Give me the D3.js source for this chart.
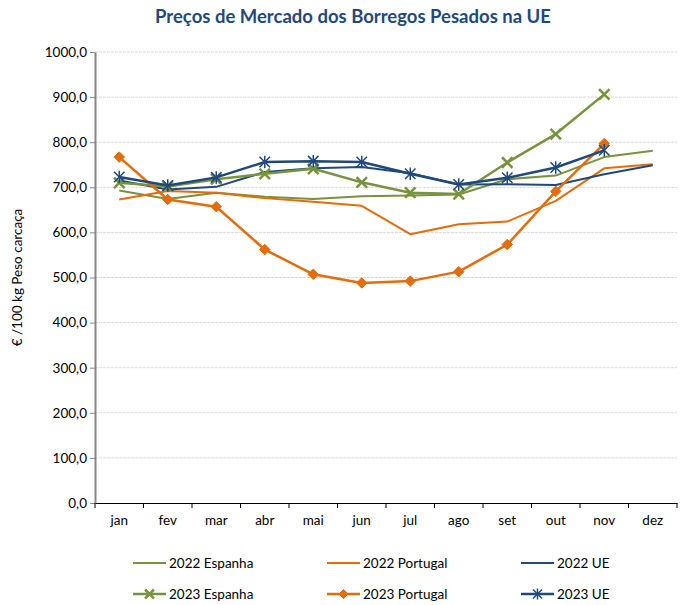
<!DOCTYPE html>
<html>
<head>
<meta charset="utf-8">
<script src="https://cdn.jsdelivr.net/npm/d3@7"></script>
<style>
  body { margin: 0; background: #fff; }
  #vis text { font-family: Lato, "Open Sans", sans-serif; }
</style>
</head>
<body>
<div id="vis"></div>
<script>
//data----
const months = ["jan","fev","mar","abr","mai","jun","jul","ago","set","out","nov","dez"]
const yTicks = [0,100,200,300,400,500,600,700,800,900,1000]

const espanha2022 = [693,674,688,679,674,680,682,684,718,726,767,781]
const portugal2022 = [673,692,688,676,668,659,596,618,624,670,742,751]
const ue2022 = [715,695,701,734,742,745,731,706,707,705,729,749]

const espanha2023 = [710,702,718,730,741,711,688,685,755,818,906]
const portugal2023 = [767,673,657,562,507,488,492,513,573,691,797]
const ue2023 = [723,704,722,756,758,756,730,706,721,744,782]

const seriesNames = ["2022 Espanha","2022 Portugal","2022 UE","2023 Espanha","2023 Portugal","2023 UE"]

//dimensions----
let dimensions = {
    width: 686,
    height: 605,
    margins: { left: 95, right: 9, top: 52, bottom: 102 },
}
dimensions.boundedwidth = dimensions.width - dimensions.margins.left - dimensions.margins.right
dimensions.boundedheight = dimensions.height - dimensions.margins.top - dimensions.margins.bottom

const green = "#77933c", orange = "#e46c0a", blue = "#1f497d"

const series = [
    {name: seriesNames[0], values: espanha2022, color: green, width: 2, marker: null},
    {name: seriesNames[1], values: portugal2022, color: orange, width: 2, marker: null},
    {name: seriesNames[2], values: ue2022, color: blue, width: 2, marker: null},
    {name: seriesNames[3], values: espanha2023, color: green, width: 2.5, marker: "x"},
    {name: seriesNames[4], values: portugal2023, color: orange, width: 2.5, marker: "diamond"},
    {name: seriesNames[5], values: ue2023, color: blue, width: 2.5, marker: "star"},
]

//canvas----
const wrapper = d3.select("#vis").append("svg")
    .attr("width", dimensions.width)
    .attr("height", dimensions.height)

wrapper.append("text")
    .attr("x", 353).attr("y", 23)
    .attr("text-anchor", "middle")
    .attr("fill", "#1f497d")
    .style("font-size", "18.5px")
    .style("font-weight", "bold")
    .text("Preços de Mercado dos Borregos Pesados na UE")

const bounds = wrapper.append("g")
    .attr("transform", `translate(${dimensions.margins.left},${dimensions.margins.top})`)

//scales----
const xScale = d3.scaleBand()
    .domain(months)
    .range([0, dimensions.boundedwidth])

const yScale = d3.scaleLinear()
    .domain([0, 1000])
    .range([dimensions.boundedheight, 0])

const xCenter = i => xScale(months[i]) + xScale.bandwidth() / 2

//grid
bounds.append("g").selectAll("line")
    .data(yTicks.filter(d => d > 0))
    .enter().append("line")
    .attr("x1", 0).attr("x2", dimensions.boundedwidth)
    .attr("y1", d => yScale(d)).attr("y2", d => yScale(d))
    .attr("stroke", "#d9d9d9")
    .attr("stroke-width", 1)
    .attr("stroke-dasharray", "3,1")

//axes----
const yAxis = bounds.append("g")
    .call(d3.axisLeft(yScale).tickValues(yTicks).tickSize(5).tickSizeOuter(0)
        .tickFormat(d => d3.format(".1f")(d).replace(".", ",")))
yAxis.select(".domain").attr("stroke", "#868686").attr("stroke-width", 2)
yAxis.selectAll(".tick line").attr("stroke", "#868686")
yAxis.selectAll(".tick text").attr("fill", "#000").attr("x", -8).style("font-size", "13.5px")

const xAxis = bounds.append("g")
    .attr("transform", `translate(0,${dimensions.boundedheight})`)
    .call(d3.axisBottom(xScale).tickSize(0))
xAxis.select(".domain").attr("stroke", "#000").attr("stroke-width", 1)
xAxis.selectAll(".tick text").attr("fill", "#000").attr("y", 12).style("font-size", "13.5px")

// x tick marks at band edges
xAxis.append("g").selectAll("line")
    .data(months.concat(["end"]))
    .enter().append("line")
    .attr("x1", (d, i) => i * xScale.step()).attr("x2", (d, i) => i * xScale.step())
    .attr("y1", 0).attr("y2", 5)
    .attr("stroke", "#000")

bounds.append("text")
    .attr("transform", `translate(${-73},${dimensions.boundedheight / 2}) rotate(-90)`)
    .attr("text-anchor", "middle")
    .attr("fill", "#000")
    .style("font-size", "13.5px")
    .text("€ /100 kg Peso carcaça")

//markers----
function drawMarker(g, type, color, size) {
    const s = size / 2
    if (type === "x" || type === "star") {
        g.append("path").attr("d", `M${-s},${-s}L${s},${s}M${-s},${s}L${s},${-s}`)
            .attr("stroke", color).attr("stroke-width", type === "x" ? 2.5 : 1.5).attr("fill", "none")
    }
    if (type === "star") {
        g.append("path").attr("d", `M0,${-s - 1}L0,${s + 1}`)
            .attr("stroke", color).attr("stroke-width", 1.5)
    }
    if (type === "diamond") {
        g.append("path").attr("d", `M0,${-s}L${s},0L0,${s}L${-s},0Z`)
            .attr("fill", color).attr("stroke", color).attr("stroke-width", 1)
    }
}

//lines----
const lineGen = d3.line()
    .x((d, i) => xCenter(i))
    .y(d => yScale(d))

const lines = bounds.append("g")
series.forEach(s => {
    lines.append("path")
        .datum(s.values)
        .attr("d", lineGen)
        .attr("fill", "none")
        .attr("stroke", s.color)
        .attr("stroke-width", s.width)
        .attr("stroke-linejoin", "round")
    if (s.marker) {
        s.values.forEach((v, i) => {
            const g = lines.append("g").attr("transform", `translate(${xCenter(i)},${yScale(v)})`)
            drawMarker(g, s.marker, s.color, 10.5)
        })
    }
})

//legend----
const legendX = [133, 327, 521]
const legendY = [563, 594]
const legend = wrapper.append("g")
series.forEach((s, i) => {
    const col = i % 3, row = Math.floor(i / 3)
    const g = legend.append("g").attr("transform", `translate(${legendX[col]},${legendY[row]})`)
    g.append("line").attr("x1", 0).attr("x2", 33).attr("y1", 0).attr("y2", 0)
        .attr("stroke", s.color).attr("stroke-width", s.width)
    if (s.marker) {
        const m = g.append("g").attr("transform", "translate(16.5,0)")
        drawMarker(m, s.marker, s.color, 9)
    }
    g.append("text").attr("x", 36).attr("y", 5)
        .attr("fill", "#000")
        .style("font-size", "13.5px")
        .text(s.name)
})
</script>
</body>
</html>
